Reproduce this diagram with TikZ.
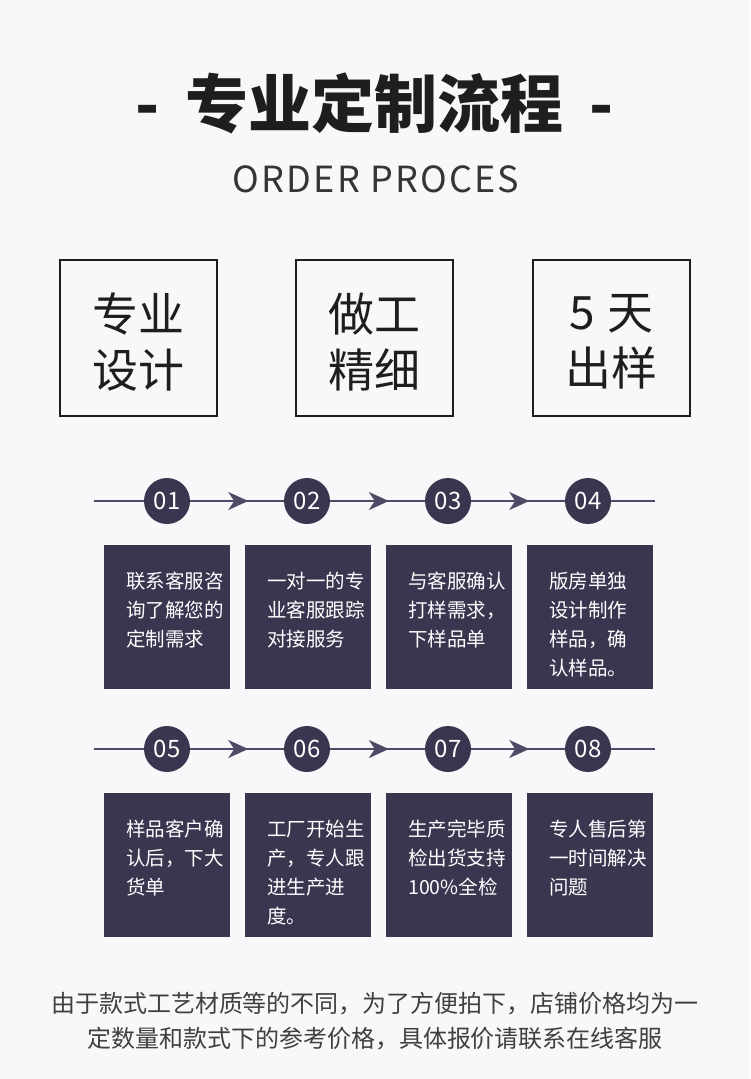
\documentclass[tikz,border=0pt]{standalone}
\usepackage{fontspec}
\setmainfont{Noto Sans CJK SC}
\usetikzlibrary{arrows.meta,decorations.markings}
\definecolor{bg}{HTML}{F8F8FA}
\definecolor{ink}{HTML}{1E1E1E}
\definecolor{navy}{HTML}{393650}
\definecolor{rail}{HTML}{4E4B66}
\begin{document}
\begin{tikzpicture}[x=1pt, y=-1pt,
    panel/.style={draw=ink, line width=2pt, minimum width=157, minimum height=156},
    paneltext/.style={align=center, text=ink, inner sep=0, font=\fontsize{46}{56}\selectfont},
    num/.style={circle, fill=navy, minimum size=46, inner sep=0, text=white, font=\fontsize{24}{24}\selectfont},
    card/.style={fill=navy, minimum width=126, minimum height=144, inner sep=0, anchor=north west},
    cardtext/.style={text=white, anchor=north west, align=left, text width=104, inner sep=0, font=\fontsize{19.5}{29}\selectfont},
    line/.style={draw=rail, line width=2pt},
    flow/.style={postaction={decorate}, decoration={markings, mark=at position 0.62 with {\arrow[rail]{Stealth[length=20pt,width=18pt,inset=6pt]}}}}]
    \fill[bg] (0,0) rectangle (750,1079);
    \useasboundingbox (0,0) rectangle (750,1079);

    \node[text=ink, font=\fontsize{63}{63}\selectfont\bfseries] (title) at (375,103) {-\hspace{26pt}专业定制流程\hspace{26pt}-};
    \node[text=ink!90, font=\fontsize{36}{36}\selectfont\addfontfeature{LetterSpace=6}] (sub) at (376,179) {ORDER PROCES};

    \node[panel] (p-1) at (138.5,338) {};
    \node[panel] (p-2) at (374.5,338) {};
    \node[panel] (p-3) at (611.5,338) {};
    \node[paneltext] (q-1) at ([shift={(0,4)}]p-1.center) {专业\\设计};
    \node[paneltext] (q-2) at ([shift={(0,4)}]p-2.center) {做工\\精细};
    \node[paneltext] (q-3) at ([shift={(0,4)}]p-3.center) {5\hspace{12pt}天\\出样};

    \coordinate (a-1) at (94,501);
    \coordinate (b-1) at (655,501);
    \node[num] (c-1) at (167,501) {01};
    \node[num] (c-2) at (307,501) {02};
    \node[num] (c-3) at (448,501) {03};
    \node[num] (c-4) at (588,501) {04};
    \draw[line] (a-1) -- (c-1);
    \draw[line, flow] (c-1) -- (c-2);
    \draw[line, flow] (c-2) -- (c-3);
    \draw[line, flow] (c-3) -- (c-4);
    \draw[line] (c-4) -- (b-1);

    \node[card] (s-1) at (104,545) {};
    \node[card] (s-2) at (245,545) {};
    \node[card] (s-3) at (386,545) {};
    \node[card] (s-4) at (527,545) {};
    \node[cardtext] (t-1) at ([shift={(22,27)}]s-1.north west) {联系客服咨\\询了解您的\\定制需求};
    \node[cardtext] (t-2) at ([shift={(22,27)}]s-2.north west) {一对一的专\\业客服跟踪\\对接服务};
    \node[cardtext] (t-3) at ([shift={(22,27)}]s-3.north west) {与客服确认\\打样需求，\\下样品单};
    \node[cardtext] (t-4) at ([shift={(22,27)}]s-4.north west) {版房单独\\设计制作\\样品，确\\认样品。};

    \coordinate (a-2) at (94,749);
    \coordinate (b-2) at (655,749);
    \node[num] (c-5) at (167,749) {05};
    \node[num] (c-6) at (307,749) {06};
    \node[num] (c-7) at (448,749) {07};
    \node[num] (c-8) at (588,749) {08};
    \draw[line] (a-2) -- (c-5);
    \draw[line, flow] (c-5) -- (c-6);
    \draw[line, flow] (c-6) -- (c-7);
    \draw[line, flow] (c-7) -- (c-8);
    \draw[line] (c-8) -- (b-2);

    \node[card] (s-5) at (104,793) {};
    \node[card] (s-6) at (245,793) {};
    \node[card] (s-7) at (386,793) {};
    \node[card] (s-8) at (527,793) {};
    \node[cardtext] (t-5) at ([shift={(22,27)}]s-5.north west) {样品客户确\\认后，下大\\货单};
    \node[cardtext] (t-6) at ([shift={(22,27)}]s-6.north west) {工厂开始生\\产，专人跟\\进生产进\\度。};
    \node[cardtext] (t-7) at ([shift={(22,27)}]s-7.north west) {生产完毕质\\检出货支持\\100\%全检};
    \node[cardtext] (t-8) at ([shift={(22,27)}]s-8.north west) {专人售后第\\一时间解决\\问题};

    \node[text=ink!85, font=\fontsize{24}{24}\selectfont] (note-1) at (375,1004) {由于款式工艺材质等的不同，为了方便拍下，店铺价格均为一};
    \node[text=ink!85, font=\fontsize{24}{24}\selectfont] (note-2) at (375,1039) {定数量和款式下的参考价格，具体报价请联系在线客服};
\end{tikzpicture}
\end{document}
